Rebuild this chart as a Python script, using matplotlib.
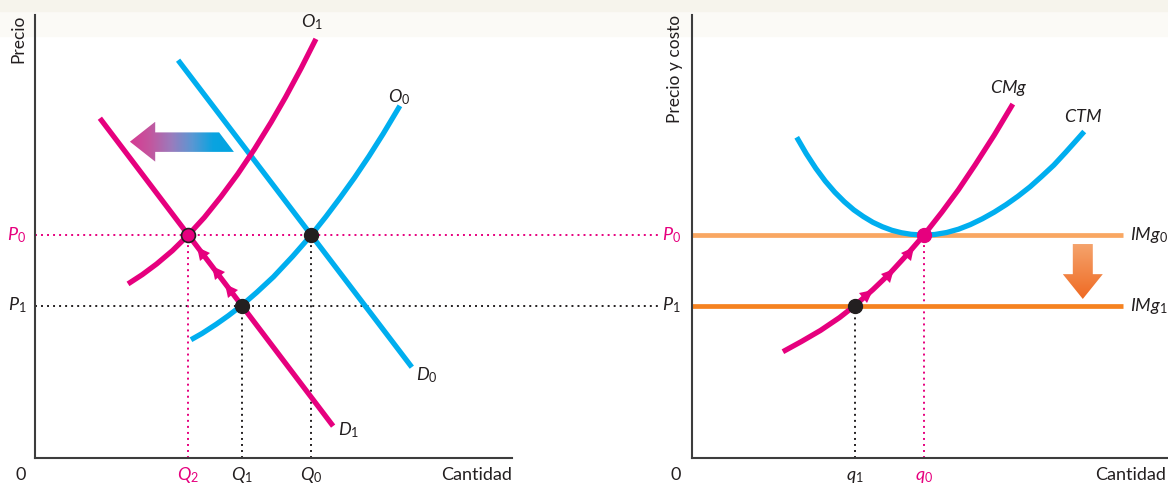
import numpy as np
import matplotlib
matplotlib.use("Agg")
import matplotlib.pyplot as plt
from matplotlib.patches import Polygon, Rectangle
from matplotlib.colors import LinearSegmentedColormap
from matplotlib.markers import MarkerStyle
from matplotlib.transforms import Affine2D

plt.rcParams['font.family'] = ['Lato', 'DejaVu Sans']
plt.rcParams['mathtext.fontset'] = 'custom'
plt.rcParams['mathtext.rm'] = 'Lato'
plt.rcParams['mathtext.it'] = 'Lato:italic'
plt.rcParams['mathtext.bf'] = 'Lato:bold'

# ---------------- data: left panel (market) ----------------
P0 = 50.3
P1 = 34.4
Q2, Q1, Q0 = 32.1, 43.4, 57.9
d0_q = [30.0, 79.0]
d0_p = [89.8, 20.5]
d1_q = [13.6, 62.5]
d1_p = [76.7, 7.2]
o0_q = [32.7, 35.0, 38.0, 40.5, 43.4, 46.5, 50.0, 54.0, 57.9, 61.0, 64.0, 67.0, 70.0, 73.0, 76.5]
o0_p = [26.7, 28.1, 30.2, 32.1, 34.5, 37.4, 40.9, 45.5, 50.3, 54.5, 58.8, 63.3, 68.1, 73.2, 79.5]
o1_q = [19.5, 22.5, 25.5, 28.8, 32.1, 35.5, 39.0, 42.5, 46.0, 49.5, 52.5, 55.8, 58.9]
o1_p = [39.3, 41.4, 43.8, 46.8, 50.3, 54.3, 59.0, 64.1, 69.7, 75.8, 81.4, 88.0, 94.6]
d1_arrow_q = [34.8, 37.9, 40.7]

# ---------------- data: right panel (firm) ----------------
q1, q0 = 34.2, 48.7
img_end = 90.5
cmg_q = [19.1, 23.0, 27.0, 31.0, 34.2, 38.0, 41.5, 45.0, 48.7, 52.5, 56.0, 59.5, 63.5, 67.4]
cmg_p = [24.0, 26.3, 28.8, 31.7, 34.4, 38.0, 41.6, 45.7, 50.3, 55.5, 60.6, 66.2, 72.9, 79.9]
ctm_q = [22.0, 24.0, 26.0, 28.0, 30.0, 32.0, 34.0, 36.0, 38.0, 40.0, 42.0, 44.0, 46.0,
         48.6, 51.0, 53.5, 56.0, 58.5, 61.0, 63.5, 66.0, 68.5, 71.0, 73.5, 76.0, 78.5,
         80.5, 82.4]
ctm_p = [72.4, 68.7, 65.4, 62.5, 60.0, 57.85, 56.0, 54.5, 53.2, 52.2, 51.4, 50.85, 50.5,
         50.3, 50.45, 50.9, 51.65, 52.7, 54.0, 55.5, 57.2, 59.1, 61.2, 63.6, 66.1, 69.0,
         71.4, 73.7]
cmg_arrow_q = [37.0, 41.5, 45.7]

PINK = '#e6007e'
BLUE = '#00aeef'
BLACK = '#231f20'
ORANGE0 = '#f9a762'
ORANGE1 = '#f58220'
AXC = '#3d3d3d'

W, H = 1168, 483
fig = plt.figure(figsize=(W / 100, H / 100), dpi=100)
fig.patch.set_facecolor('white')
fig.add_artist(Rectangle((0, 1 - 36 / H), 1, 36 / H, transform=fig.transFigure,
                         color='#fbfaf6', zorder=-2))
fig.add_artist(Rectangle((0, 1 - 11 / H), 1, 11 / H, transform=fig.transFigure,
                         color='#f6f4ec', zorder=-1))

axL = fig.add_axes([35 / W, 25 / H, (512 - 35) / W, 443 / H])
axR = fig.add_axes([692 / W, 25 / H, (1168 - 692) / W, 443 / H])
for ax in (axL, axR):
    ax.set_xlim(0, 100)
    ax.set_ylim(0, 100)
    ax.set_facecolor('none')
    for s in ('top', 'right'):
        ax.spines[s].set_visible(False)
    for s in ('left', 'bottom'):
        ax.spines[s].set_color(AXC)
        ax.spines[s].set_linewidth(1.5)
    ax.set_xticks([])
    ax.set_yticks([])

LW = 3.8
DOT = dict(linestyle=(0, (1, 2.1)), lw=1.4)
CURVE = dict(lw=LW, solid_capstyle='butt', solid_joinstyle='round')


def heads(ax, xs, cq, cp, step):
    """Triangular arrowheads along a curve, oriented in display space."""
    for q in xs:
        p = np.interp(q, cq, cp)
        pn = np.interp(q + step, cq, cp)
        a = ax.transData.transform((q, p))
        b = ax.transData.transform((q + step, pn))
        ang = np.degrees(np.arctan2(b[1] - a[1], b[0] - a[0]))
        m = MarkerStyle('^', transform=Affine2D().rotate_deg(ang - 90))
        ax.plot([q], [p], marker=m, ms=9, color=PINK, mew=0, linestyle='none', zorder=5)


# ---------- left panel ----------
axL.plot([0, 130.6], [P0, P0], color=PINK, clip_on=False, zorder=1, **DOT)
axL.plot([0, 130.6], [P1, P1], color=BLACK, clip_on=False, zorder=1, **DOT)
axL.plot([Q2, Q2], [0, P0], color=PINK, zorder=1, **DOT)
axL.plot([Q1, Q1], [0, P1], color=BLACK, zorder=1, **DOT)
axL.plot([Q0, Q0], [0, P0], color=BLACK, zorder=1, **DOT)

axL.plot(d0_q, d0_p, color=BLUE, zorder=3, **CURVE)
axL.plot(o0_q, o0_p, color=BLUE, zorder=3, **CURVE)
axL.plot(o1_q, o1_p, color=PINK, zorder=4, **CURVE)
axL.plot(d1_q, d1_p, color=PINK, zorder=4, **CURVE)
heads(axL, d1_arrow_q, d1_q, d1_p, -1.0)

axL.plot([Q1, Q0], [P1, P0], 'o', color=BLACK, ms=10, zorder=6)
axL.plot([Q2], [P0], 'o', color=PINK, mec=BLACK, mew=1.2, ms=10, zorder=6)

# gradient shift arrow
arr = [(19.9, 71.4), (25.2, 75.9), (25.2, 73.5), (38.6, 73.5), (41.7, 69.1),
       (25.2, 69.1), (25.2, 66.9)]
poly = Polygon(arr, closed=True, facecolor='none', edgecolor='none')
axL.add_patch(poly)
cmap = LinearSegmentedColormap.from_list('shift', ['#d63a92', '#c2579f', '#9a7cbd',
                                                   '#5a97d3', '#0aa3e0', '#00a5e2'])
grad = np.linspace(0, 1, 256).reshape(1, -1)
im = axL.imshow(grad, cmap=cmap, extent=(19.9, 41.7, 66.9, 75.9), aspect='auto',
                zorder=2, interpolation='bilinear')
im.set_clip_path(poly)
axL.set_xlim(0, 100)
axL.set_ylim(0, 100)

FS = 13
axL.text(-3.8, P0, r'$P_0$', color=PINK, fontsize=FS, ha='center', va='center', clip_on=False)
axL.text(-3.8, P1, r'$P_1$', color=BLACK, fontsize=FS, ha='center', va='center', clip_on=False)
axL.text(58.1, 98.4, r'$O_1$', color=BLACK, fontsize=FS, ha='center', va='center', clip_on=False)
axL.text(76.3, 81.5, r'$O_0$', color=BLACK, fontsize=FS, ha='center', va='center', clip_on=False)
axL.text(82.2, 18.7, r'$D_0$', color=BLACK, fontsize=FS, ha='center', va='center', clip_on=False)
axL.text(65.8, 6.3, r'$D_1$', color=BLACK, fontsize=FS, ha='center', va='center', clip_on=False)
axL.text(-3.1, -5.0, '0', color=BLACK, fontsize=FS, ha='center', va='baseline', clip_on=False)
axL.text(Q2, -5.0, r'$Q_2$', color=PINK, fontsize=FS, ha='center', va='baseline', clip_on=False)
axL.text(Q1, -5.0, r'$Q_1$', color=BLACK, fontsize=FS, ha='center', va='baseline', clip_on=False)
axL.text(Q0, -5.0, r'$Q_0$', color=BLACK, fontsize=FS, ha='center', va='baseline', clip_on=False)
axL.text(100, -5.0, 'Cantidad', color=BLACK, fontsize=FS, ha='right', va='baseline', clip_on=False)
axL.text(-3.4, 100, 'Precio', color=BLACK, fontsize=12.5, rotation=90, ha='center',
         va='top', clip_on=False)

# ---------- right panel ----------
axR.plot([q1, q1], [0, P1], color=BLACK, zorder=1, **DOT)
axR.plot([q0, q0], [0, P0], color=PINK, zorder=1, **DOT)
axR.plot([0, img_end], [P0, P0], color=ORANGE0, lw=3.4, solid_capstyle='butt', zorder=2)
axR.plot([0, img_end], [P1, P1], color=ORANGE1, lw=3.4, solid_capstyle='butt', zorder=2)
axR.plot(ctm_q, ctm_p, color=BLUE, zorder=3, **CURVE)
axR.plot(cmg_q, cmg_p, color=PINK, zorder=4, **CURVE)
heads(axR, cmg_arrow_q, cmg_q, cmg_p, 1.0)

axR.plot([q1], [P1], 'o', color=BLACK, ms=10, zorder=6)
axR.plot([q0], [P0], 'o', color=PINK, ms=10, zorder=6)

darr = [(80.0, 48.3), (84.2, 48.3), (84.2, 41.5), (86.3, 41.5), (82.1, 35.9),
        (77.9, 41.5), (80.0, 41.5)]
dpoly = Polygon(darr, closed=True, facecolor='none', edgecolor='none')
axR.add_patch(dpoly)
cmap2 = LinearSegmentedColormap.from_list('down', ['#ef6a23', '#f5a36c'])
grad2 = np.linspace(0, 1, 256).reshape(-1, 1)
im2 = axR.imshow(grad2, cmap=cmap2, extent=(77.9, 86.3, 35.9, 48.3), aspect='auto',
                 origin='lower', zorder=2, interpolation='bilinear')
im2.set_clip_path(dpoly)
axR.set_xlim(0, 100)
axR.set_ylim(0, 100)

axR.text(-4.3, P0, r'$P_0$', color=PINK, fontsize=FS, ha='center', va='center', clip_on=False)
axR.text(-4.3, P1, r'$P_1$', color=BLACK, fontsize=FS, ha='center', va='center', clip_on=False)
axR.text(66.6, 83.5, r'$CMg$', color=BLACK, fontsize=FS, ha='center', va='center', clip_on=False)
axR.text(82.1, 77.0, r'$CTM$', color=BLACK, fontsize=FS, ha='center', va='center', clip_on=False)
axR.text(92.0, P0, r'$IMg_0$', color=BLACK, fontsize=FS, ha='left', va='center', clip_on=False)
axR.text(92.0, P1, r'$IMg_1$', color=BLACK, fontsize=FS, ha='left', va='center', clip_on=False)
axR.text(-3.4, -5.0, '0', color=BLACK, fontsize=FS, ha='center', va='baseline', clip_on=False)
axR.text(q1, -5.0, r'$q_1$', color=BLACK, fontsize=FS, ha='center', va='baseline', clip_on=False)
axR.text(q0, -5.0, r'$q_0$', color=PINK, fontsize=FS, ha='center', va='baseline', clip_on=False)
axR.text(84.7, -5.0, 'Cantidad', color=BLACK, fontsize=FS, ha='left', va='baseline', clip_on=False)
axR.text(-3.5, 100, 'Precio y costo', color=BLACK, fontsize=12.5, rotation=90,
         ha='center', va='top', clip_on=False)

fig.savefig('out.png', dpi=100)
